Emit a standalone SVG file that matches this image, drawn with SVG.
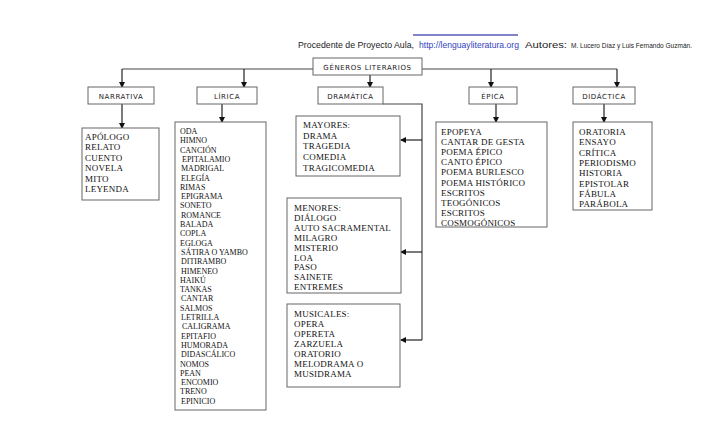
<svg xmlns="http://www.w3.org/2000/svg" width="728" height="442" viewBox="0 0 728 442">
<defs>
<marker id="ah" markerWidth="6" markerHeight="6" refX="5" refY="3" orient="auto" markerUnits="userSpaceOnUse">
<path d="M0,0 L6,3 L0,6 z" fill="#111"/>
</marker>
<style>
.box{fill:#fff;stroke:#666;stroke-width:1}
.ln{fill:none;stroke:#444;stroke-width:1.2}
.arr{fill:none;stroke:#222;stroke-width:1.2;marker-end:url(#ah)}
.lbl{font-family:"DejaVu Sans",sans-serif;font-size:7px;letter-spacing:0.6px;fill:#222;text-anchor:middle}
.it{font-family:"Liberation Serif","Times New Roman",serif;font-size:9px;fill:#111;letter-spacing:0.2px}
.sm{font-family:"Liberation Serif","Times New Roman",serif;font-size:8px;fill:#111}
.hd{font-family:"Liberation Sans",Arial,sans-serif;font-size:8.5px;fill:#222}
.url{fill:#3344bb}
.aut{font-size:9.5px}
.auth{font-size:6.5px}
</style>
</defs>
<rect width="728" height="442" fill="#fff"/>
<g id="header">
<line x1="413" y1="35" x2="518" y2="35" stroke="#5a5ab4" stroke-width="1.6"/>
<text class="hd" x="298" y="48" textLength="116" lengthAdjust="spacingAndGlyphs">Procedente de Proyecto Aula,</text>
<text class="hd url" x="419" y="48" textLength="100" lengthAdjust="spacingAndGlyphs">http://lenguayliteratura.org</text>
<text class="hd aut" x="525" y="48" textLength="42" lengthAdjust="spacingAndGlyphs">Autores:</text>
<text class="hd auth" x="571" y="48" textLength="121" lengthAdjust="spacingAndGlyphs">M. Lucero  Díaz y Luis Fernando Guzmán.</text>
</g>
<g id="connectors">
<path class="ln" d="M122,69 H313 M422,69 H617"/>
<line class="arr" x1="122" y1="69" x2="122" y2="87"/>
<line class="arr" x1="244" y1="69" x2="244" y2="87"/>
<line class="arr" x1="370" y1="75" x2="370" y2="87"/>
<line class="arr" x1="491" y1="69" x2="491" y2="87"/>
<line class="arr" x1="617" y1="69" x2="617" y2="87"/>
<line class="arr" x1="122" y1="104" x2="122" y2="128"/>
<line class="arr" x1="222" y1="104" x2="222" y2="122"/>
<line class="arr" x1="496" y1="104" x2="496" y2="122"/>
<line class="arr" x1="604" y1="104" x2="604" y2="122"/>
<path class="ln" d="M383,104 H422 V340"/>
<line class="arr" x1="422" y1="140" x2="401" y2="140"/>
<line class="arr" x1="422" y1="252" x2="401" y2="252"/>
<line class="arr" x1="422" y1="340" x2="401" y2="340"/>
</g>
<g id="generos">
<rect class="box" x="313" y="58" width="109" height="17"/>
<text class="lbl" x="367.5" y="69.5">GÉNEROS LITERARIOS</text>
</g>
<g id="narrativa">
<rect class="box" x="88" y="87" width="66" height="17"/>
<text class="lbl" x="121" y="98.5">NARRATIVA</text>
</g>
<g id="lirica">
<rect class="box" x="197" y="87" width="60" height="17"/>
<text class="lbl" x="227" y="98.5">LÍRICA</text>
</g>
<g id="dramatica">
<rect class="box" x="318" y="87" width="65" height="17"/>
<text class="lbl" x="350.5" y="98.5">DRAMÁTICA</text>
</g>
<g id="epica">
<rect class="box" x="469" y="87" width="48" height="17"/>
<text class="lbl" x="493" y="98.5">ÉPICA</text>
</g>
<g id="didactica">
<rect class="box" x="573" y="87" width="62" height="17"/>
<text class="lbl" x="604" y="98.5">DIDÁCTICA</text>
</g>
<g id="narrativa-list">
<rect class="box" x="82" y="128" width="77" height="72"/>
<text class="it" x="85" y="140">APÓLOGO</text>
<text class="it" x="85" y="150.4">RELATO</text>
<text class="it" x="85" y="160.8">CUENTO</text>
<text class="it" x="85" y="171.2">NOVELA</text>
<text class="it" x="85" y="181.6">MITO</text>
<text class="it" x="85" y="192">LEYENDA</text>
</g>
<g id="lirica-list">
<rect class="box" x="175" y="122" width="91" height="288"/>
<text class="sm" x="180" y="134">ODA</text>
<text class="sm" x="180" y="143.3">HIMNO</text>
<text class="sm" x="180" y="152.6">CANCIÓN</text>
<text class="sm" x="182" y="161.9">EPITALAMIO</text>
<text class="sm" x="181" y="171.2">MADRIGAL</text>
<text class="sm" x="181" y="180.5">ELEGÍA</text>
<text class="sm" x="180" y="189.8">RIMAS</text>
<text class="sm" x="181" y="199.1">EPIGRAMA</text>
<text class="sm" x="180" y="208.4">SONETO</text>
<text class="sm" x="181" y="217.7">ROMANCE</text>
<text class="sm" x="180" y="227">BALADA</text>
<text class="sm" x="180" y="236.3">COPLA</text>
<text class="sm" x="180" y="245.6">EGLOGA</text>
<text class="sm" x="181" y="254.9">SÁTIRA O YAMBO</text>
<text class="sm" x="181" y="264.2">DITIRAMBO</text>
<text class="sm" x="181" y="273.5">HIMENEO</text>
<text class="sm" x="180" y="282.8">HAIKÚ</text>
<text class="sm" x="180" y="292.1">TANKAS</text>
<text class="sm" x="181" y="301.4">CANTAR</text>
<text class="sm" x="180" y="310.7">SALMOS</text>
<text class="sm" x="181" y="320">LETRILLA</text>
<text class="sm" x="182" y="329.3">CALIGRAMA</text>
<text class="sm" x="181" y="338.6">EPITAFIO</text>
<text class="sm" x="181" y="347.9">HUMORADA</text>
<text class="sm" x="181" y="357.2">DIDASCÁLICO</text>
<text class="sm" x="180" y="366.5">NOMOS</text>
<text class="sm" x="180" y="375.8">PEAN</text>
<text class="sm" x="181" y="385.1">ENCOMIO</text>
<text class="sm" x="180" y="394.4">TRENO</text>
<text class="sm" x="181" y="403.7">EPINICIO</text>
</g>
<g id="mayores">
<rect class="box" x="296" y="116" width="104" height="60"/>
<text class="it" x="303" y="128">MAYORES:</text>
<text class="it" x="303" y="138.7">DRAMA</text>
<text class="it" x="303" y="149.4">TRAGEDIA</text>
<text class="it" x="303" y="160.1">COMEDIA</text>
<text class="it" x="303" y="170.8">TRAGICOMEDIA</text>
</g>
<g id="menores">
<rect class="box" x="287" y="198" width="114" height="95"/>
<text class="it" x="294" y="211">MENORES:</text>
<text class="it" x="294" y="220.9">DIÁLOGO</text>
<text class="it" x="294" y="230.8">AUTO SACRAMENTAL</text>
<text class="it" x="294" y="240.7">MILAGRO</text>
<text class="it" x="294" y="250.6">MISTERIO</text>
<text class="it" x="294" y="260.5">LOA</text>
<text class="it" x="294" y="270.4">PASO</text>
<text class="it" x="294" y="280.3">SAINETE</text>
<text class="it" x="294" y="290.2">ENTREMES</text>
</g>
<g id="musicales">
<rect class="box" x="287" y="304" width="113" height="83"/>
<text class="it" x="294" y="317">MUSICALES:</text>
<text class="it" x="294" y="327">OPERA</text>
<text class="it" x="294" y="337">OPERETA</text>
<text class="it" x="294" y="347">ZARZUELA</text>
<text class="it" x="294" y="357">ORATORIO</text>
<text class="it" x="294" y="367">MELODRAMA O</text>
<text class="it" x="294" y="377">MUSIDRAMA</text>
</g>
<g id="epica-list">
<rect class="box" x="436" y="122" width="111" height="105"/>
<text class="it" x="441" y="135">EPOPEYA</text>
<text class="it" x="441" y="145.1">CANTAR DE GESTA</text>
<text class="it" x="441" y="155.2">POEMA ÉPICO</text>
<text class="it" x="441" y="165.3">CANTO ÉPICO</text>
<text class="it" x="441" y="175.4">POEMA BURLESCO</text>
<text class="it" x="441" y="185.5">POEMA HISTÓRICO</text>
<text class="it" x="441" y="195.6">ESCRITOS</text>
<text class="it" x="441" y="205.7">TEOGÓNICOS</text>
<text class="it" x="441" y="215.8">ESCRITOS</text>
<text class="it" x="441" y="225.9">COSMOGÓNICOS</text>
</g>
<g id="didactica-list">
<rect class="box" x="573" y="122" width="79" height="88"/>
<text class="it" x="579" y="135">ORATORIA</text>
<text class="it" x="579" y="145.3">ENSAYO</text>
<text class="it" x="579" y="155.6">CRÍTICA</text>
<text class="it" x="579" y="165.9">PERIODISMO</text>
<text class="it" x="579" y="176.2">HISTORIA</text>
<text class="it" x="579" y="186.5">EPISTOLAR</text>
<text class="it" x="579" y="196.8">FÁBULA</text>
<text class="it" x="579" y="207.1">PARÁBOLA</text>
</g>
</svg>
